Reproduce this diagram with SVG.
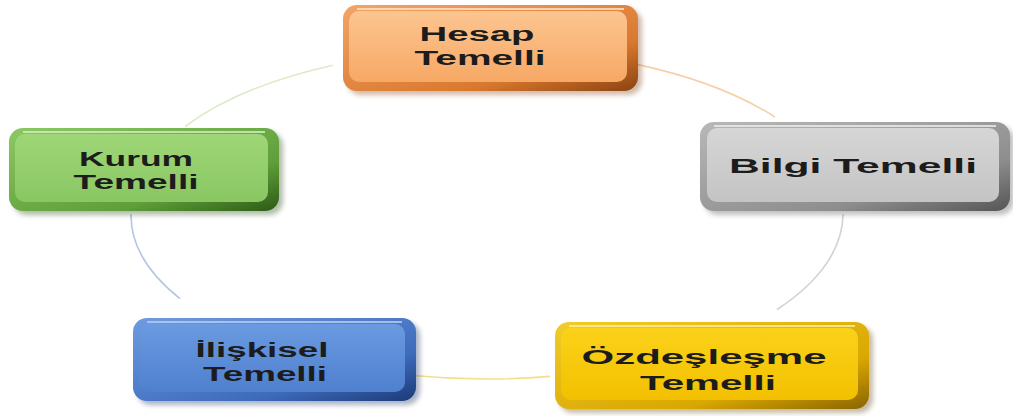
<svg xmlns="http://www.w3.org/2000/svg" width="1013" height="416" viewBox="0 0 1013 416">
  <defs>
    <style>
      .conn { fill: none; stroke-width: 1.6; }
      .lbl { font-family: "Liberation Sans", "Open Sans", sans-serif; font-weight: 600; font-size: 20px; fill: #1c1c1c; }
    </style>
    <filter id="soft" x="-10%" y="-10%" width="120%" height="130%">
      <feGaussianBlur stdDeviation="2.5"/>
    </filter>
    <!-- orange -->
    <linearGradient id="orFrame" x1="0" y1="0" x2="1" y2="1">
      <stop offset="0" stop-color="#f3a468"/>
      <stop offset="0.7" stop-color="#d9792f"/>
      <stop offset="1" stop-color="#8a4310"/>
    </linearGradient>
    <linearGradient id="orFace" x1="0" y1="0" x2="0" y2="1">
      <stop offset="0" stop-color="#fcc590"/>
      <stop offset="1" stop-color="#f7a865"/>
    </linearGradient>
    <!-- gray -->
    <linearGradient id="grFrame" x1="0" y1="0" x2="1" y2="1">
      <stop offset="0" stop-color="#b8b8b8"/>
      <stop offset="0.7" stop-color="#8e8e8e"/>
      <stop offset="1" stop-color="#555"/>
    </linearGradient>
    <linearGradient id="grFace" x1="0" y1="0" x2="0" y2="1">
      <stop offset="0" stop-color="#d6d6d6"/>
      <stop offset="1" stop-color="#c4c4c4"/>
    </linearGradient>
    <!-- green -->
    <linearGradient id="gnFrame" x1="0" y1="0" x2="1" y2="1">
      <stop offset="0" stop-color="#8cc866"/>
      <stop offset="0.7" stop-color="#5f9e38"/>
      <stop offset="1" stop-color="#2c5a14"/>
    </linearGradient>
    <linearGradient id="gnFace" x1="0" y1="0" x2="0" y2="1">
      <stop offset="0" stop-color="#9fd677"/>
      <stop offset="1" stop-color="#89c763"/>
    </linearGradient>
    <!-- blue -->
    <linearGradient id="blFrame" x1="0" y1="0" x2="1" y2="1">
      <stop offset="0" stop-color="#6f9be0"/>
      <stop offset="0.7" stop-color="#3e6cbc"/>
      <stop offset="1" stop-color="#1c3a78"/>
    </linearGradient>
    <linearGradient id="blFace" x1="0" y1="0" x2="0" y2="1">
      <stop offset="0" stop-color="#6a9ae0"/>
      <stop offset="1" stop-color="#4f80cf"/>
    </linearGradient>
    <!-- yellow -->
    <linearGradient id="yeFrame" x1="0" y1="0" x2="1" y2="1">
      <stop offset="0" stop-color="#f2cc2a"/>
      <stop offset="0.7" stop-color="#d9a700"/>
      <stop offset="1" stop-color="#8a6400"/>
    </linearGradient>
    <linearGradient id="yeFace" x1="0" y1="0" x2="0" y2="1">
      <stop offset="0" stop-color="#fbd21a"/>
      <stop offset="1" stop-color="#f2c000"/>
    </linearGradient>
  </defs>

  <!-- ring of arcs joining the boxes -->
  <g id="connectors">
    <path class="conn" stroke="#dcebc8" d="M185,126.5 A356,165 0 0 1 333,65.2"/>
    <path class="conn" stroke="#f7cfa8" d="M638,64.6 A356,165 0 0 1 775,117"/>
    <path class="conn" stroke="#d2d2d2" d="M843,214 A356,165 0 0 1 777,309.5"/>
    <path class="conn" stroke="#f3df8a" d="M550,376.4 A356,165 0 0 1 416,375.7"/>
    <path class="conn" stroke="#b4c6e6" d="M180,298.6 A356,165 0 0 1 131,214"/>
  </g>

  <g id="hesap">
    <rect x="347" y="9" width="295" height="86" rx="14" fill="#7a3a0c" opacity="0.35" filter="url(#soft)"/>
    <rect x="343" y="5" width="295" height="86" rx="14" fill="url(#orFrame)"/>
    <rect x="349" y="11" width="278" height="71" rx="10" fill="url(#orFace)"/>
    <path d="M357,9 H624" stroke="#fde3c8" stroke-width="2" opacity="0.8"/>
    <text class="lbl" x="477" y="41" text-anchor="middle" textLength="115" lengthAdjust="spacingAndGlyphs">Hesap</text>
    <text class="lbl" x="480" y="65" text-anchor="middle" textLength="131" lengthAdjust="spacingAndGlyphs">Temelli</text>
  </g>

  <g id="bilgi">
    <rect x="704" y="126" width="310" height="89" rx="14" fill="#333" opacity="0.3" filter="url(#soft)"/>
    <rect x="700" y="122" width="310" height="89" rx="14" fill="url(#grFrame)"/>
    <rect x="707" y="128" width="292" height="74" rx="10" fill="url(#grFace)"/>
    <path d="M714,126 H996" stroke="#eeeeee" stroke-width="2" opacity="0.8"/>
    <text class="lbl" x="853" y="173" text-anchor="middle" textLength="248" lengthAdjust="spacingAndGlyphs">Bilgi Temelli</text>
  </g>

  <g id="kurum">
    <rect x="13" y="132" width="270" height="83" rx="14" fill="#1f4010" opacity="0.35" filter="url(#soft)"/>
    <rect x="9" y="128" width="270" height="83" rx="14" fill="url(#gnFrame)"/>
    <rect x="15" y="134" width="253" height="68" rx="10" fill="url(#gnFace)"/>
    <path d="M23,132 H265" stroke="#d2efbe" stroke-width="2" opacity="0.8"/>
    <text class="lbl" x="136" y="166" text-anchor="middle" textLength="114" lengthAdjust="spacingAndGlyphs">Kurum</text>
    <text class="lbl" x="136" y="189" text-anchor="middle" textLength="125" lengthAdjust="spacingAndGlyphs">Temelli</text>
  </g>

  <g id="iliskisel">
    <rect x="137" y="322" width="283" height="83" rx="14" fill="#10285a" opacity="0.35" filter="url(#soft)"/>
    <rect x="133" y="318" width="283" height="83" rx="14" fill="url(#blFrame)"/>
    <rect x="139" y="324" width="266" height="68" rx="10" fill="url(#blFace)"/>
    <path d="M147,322 H402" stroke="#b8cff2" stroke-width="2" opacity="0.8"/>
    <text class="lbl" x="262" y="357" text-anchor="middle" textLength="133" lengthAdjust="spacingAndGlyphs">İlişkisel</text>
    <text class="lbl" x="265" y="381" text-anchor="middle" textLength="124" lengthAdjust="spacingAndGlyphs">Temelli</text>
  </g>

  <g id="ozdeslesme">
    <rect x="559" y="326" width="314" height="87" rx="14" fill="#5a4000" opacity="0.35" filter="url(#soft)"/>
    <rect x="555" y="322" width="314" height="87" rx="14" fill="url(#yeFrame)"/>
    <rect x="561" y="328" width="297" height="72" rx="10" fill="url(#yeFace)"/>
    <path d="M569,326 H855" stroke="#fff0a0" stroke-width="2" opacity="0.8"/>
    <text class="lbl" x="704" y="364" text-anchor="middle" textLength="245" lengthAdjust="spacingAndGlyphs">Özdeşleşme</text>
    <text class="lbl" x="708" y="390" text-anchor="middle" textLength="136" lengthAdjust="spacingAndGlyphs">Temelli</text>
  </g>
</svg>
